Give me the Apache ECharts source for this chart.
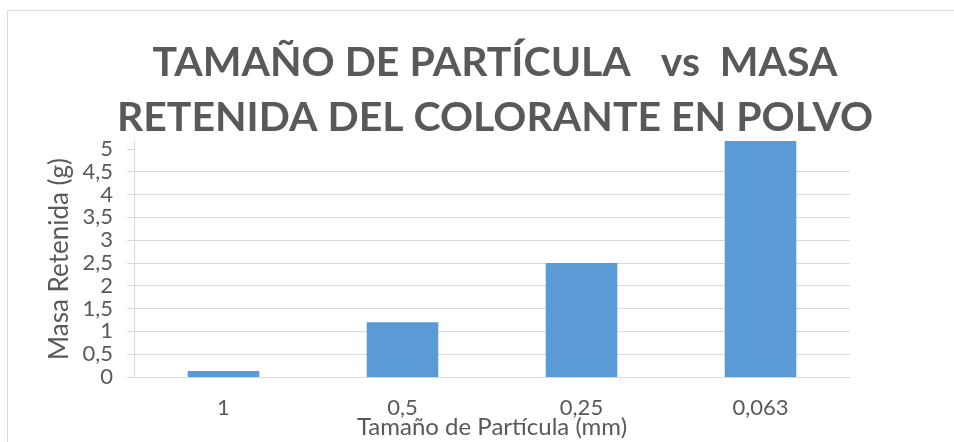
<!DOCTYPE html>
<html>
<head>
<meta charset="utf-8">
<script src="https://cdn.jsdelivr.net/npm/echarts@6/dist/echarts.min.js"></script>
<style>
  html, body { margin: 0; padding: 0; background: #fff; }
  #chart { width: 954px; height: 442px; }
</style>
</head>
<body>
<div id="chart"></div>
<script>
// Particle size classes (mm) and retained mass (g)
const categories = ['1', '0,5', '0,25', '0,063'];
const masaRetenida = [0.13, 1.2, 2.5, 5.17];
const yTicks = [0, 0.5, 1, 1.5, 2, 2.5, 3, 3.5, 4, 4.5, 5];

const titleText = 'TAMAÑO DE PARTÍCULA   vs  MASA\nRETENIDA DEL COLORANTE EN POLVO';
const xName = 'Tamaño de Partícula (mm)';
const yName = 'Masa Retenida (g)';

const FONT = 'Lato, Carlito, "Noto Sans", sans-serif';
const GREY = '#595959';
const LINE = '#d9d9d9';

const fmt = v => String(v).replace('.', ',');

const chart = echarts.init(document.getElementById('chart'), null, { renderer: 'canvas' });
chart.setOption({
  backgroundColor: '#fff',
  animation: false,
  graphic: [{
    type: 'rect',
    shape: { x: 7.5, y: 10.5, width: 1200, height: 1200 },
    style: { fill: 'none', stroke: LINE, lineWidth: 1 },
    silent: true,
    z: -1
  }],
  title: {
    text: titleText,
    left: 490,
    top: 30,
    textAlign: 'center',
    textStyle: {
      fontFamily: FONT,
      fontWeight: 'bold',
      fontSize: 41,
      lineHeight: 55,
      color: GREY
    }
  },
  grid: {
    left: 134, right: 104, top: 141, bottom: 65,
    containLabel: false,
    outerBoundsMode: 'none'
  },
  xAxis: {
    type: 'category',
    data: categories,
    name: xName,
    nameLocation: 'middle',
    nameGap: 38,
    nameMoveOverlap: false,
    nameTextStyle: { fontFamily: FONT, fontSize: 24, color: GREY },
    axisLine: { show: true, lineStyle: { color: LINE, width: 1 } },
    axisTick: { show: false },
    axisLabel: { fontFamily: FONT, fontSize: 22, color: GREY, margin: 20 }
  },
  yAxis: {
    type: 'value',
    min: 0,
    max: Math.max(...masaRetenida),
    interval: 0.5,
    name: yName,
    nameLocation: 'middle',
    nameGap: 61,
    nameMoveOverlap: false,
    nameTextStyle: { fontFamily: FONT, fontSize: 26, color: GREY },
    axisLine: { show: true, lineStyle: { color: LINE, width: 1 } },
    axisTick: { show: true, inside: false, length: 7, customValues: yTicks, lineStyle: { color: LINE } },
    axisLabel: {
      fontFamily: FONT, fontSize: 22, color: GREY, margin: 21,
      customValues: yTicks,
      showMinLabel: true,
      showMaxLabel: true,
      hideOverlap: false,
      formatter: fmt
    },
    splitLine: { show: true, showMaxLine: false, lineStyle: { color: LINE, width: 1 } }
  },
  series: [{
    type: 'bar',
    data: masaRetenida,
    barWidth: '40%',
    itemStyle: { color: '#5b9bd5' }
  }]
});
</script>
</body>
</html>
